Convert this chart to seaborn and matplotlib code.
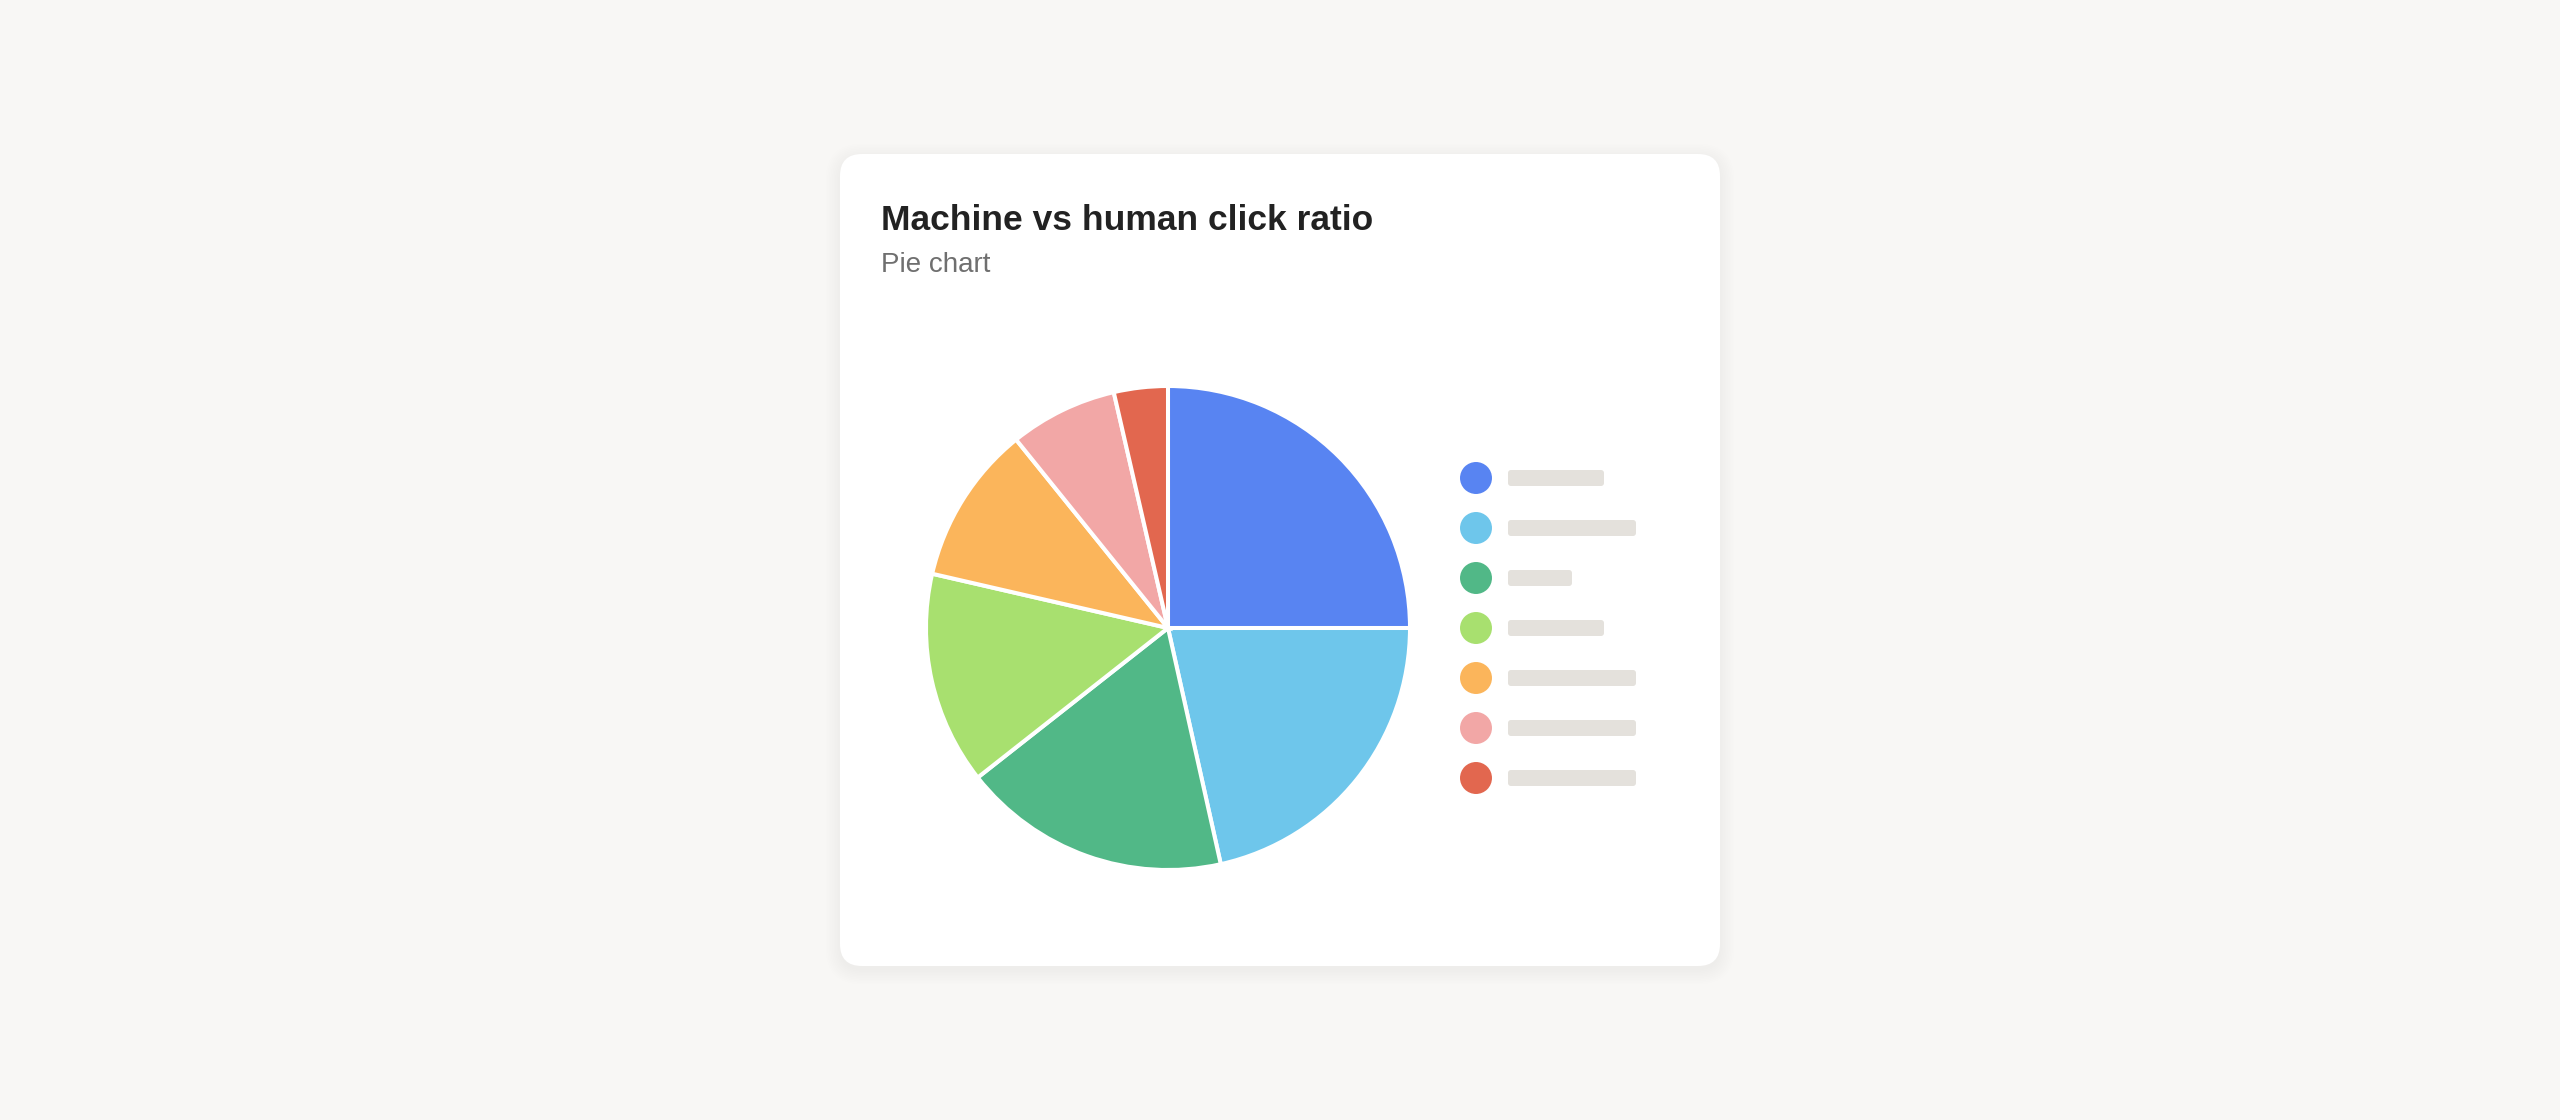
import numpy as np
import pandas as pd
import matplotlib.pyplot as plt
import seaborn as sns
from matplotlib.patches import FancyBboxPatch

# Datos del gráfico
segment_names = ["Segment 1", "Segment 2", "Segment 3", "Segment 4",
                 "Segment 5", "Segment 6", "Segment 7"]
segment_shares = [25.0, 21.5, 17.9, 14.2, 10.6, 7.2, 3.6]
segment_colors = ["#5884F2", "#6EC6EB", "#51B887", "#A8E06F",
                  "#FBB55B", "#F2A7A6", "#E2674F"]
# longitud de las etiquetas grises (placeholder) de la leyenda
label_widths = [96, 128, 64, 96, 128, 128, 128]

title_text = "Machine vs human click ratio"
subtitle_text = "Pie chart"

W, H = 2560, 1120
DPI = 100
BG = "#F8F7F5"


def px_box(left, top, width, height):
    """Convierte una caja en píxeles (origen arriba-izquierda) a coordenadas de figura"""
    return [left / W, 1 - (top + height) / H, width / W, height / H]


def draw_card(ax):
    """Tarjeta blanca con sombra suave"""
    x, y, w, h, r = 840, 154, 880, 812, 22
    for i in range(10):
        g = i * 1.6
        ax.add_patch(FancyBboxPatch(
            (x - g, y - g + 4), w + 2 * g, h + 2 * g,
            boxstyle=f"round,pad=0,rounding_size={r + g}",
            fc="black", ec="none", alpha=0.004))
    ax.add_patch(FancyBboxPatch(
        (x, y), w, h, boxstyle=f"round,pad=0,rounding_size={r}",
        fc="white", ec="none"))


def round_bars(ax, row_px=50):
    """Reemplaza las barras rectangulares por barras con esquinas redondeadas"""
    for bar in list(ax.patches):
        x0, y0 = bar.get_x(), bar.get_y()
        bw, bh = bar.get_width(), bar.get_height()
        color = bar.get_facecolor()
        bar.remove()
        ax.add_patch(FancyBboxPatch(
            (x0, y0), bw, bh, boxstyle="round,pad=0,rounding_size=3",
            mutation_aspect=1 / row_px, fc=color, ec="none"))


def main():
    sns.set_theme(style="white")
    plt.rcParams['font.family'] = ['Liberation Sans', 'DejaVu Sans']

    fig = plt.figure(figsize=(W / DPI, H / DPI), dpi=DPI, facecolor=BG)

    # Fondo en coordenadas de píxel
    bg_ax = fig.add_axes([0, 0, 1, 1])
    bg_ax.set_xlim(0, W)
    bg_ax.set_ylim(H, 0)
    bg_ax.set_axis_off()
    draw_card(bg_ax)

    bg_ax.text(881, 230, title_text, fontsize=25.5, fontweight="bold",
               color="#222222", va="baseline", ha="left")
    bg_ax.text(881, 272, subtitle_text, fontsize=20, color="#6F6F6F",
               va="baseline", ha="left")

    # Pie
    cx, cy, r = 1168, 628, 242
    half = 252
    pie_ax = fig.add_axes(px_box(cx - half, cy - half, 2 * half, 2 * half))
    pie_ax.pie(segment_shares, colors=segment_colors, startangle=90,
               counterclock=False,
               wedgeprops=dict(edgecolor="white", linewidth=2.9))
    lim = half / r
    pie_ax.set_xlim(-lim, lim)
    pie_ax.set_ylim(-lim, lim)
    pie_ax.set_aspect("equal")
    pie_ax.set_axis_off()

    # Leyenda: puntos de color + etiquetas grises
    leg_ax = fig.add_axes(px_box(1448, 453, 260, 350))
    df = pd.DataFrame({"name": segment_names, "width": label_widths})
    sns.barplot(data=df, x="width", y="name", orient="h", color="#E4E1DC",
                width=0.32, saturation=1, ax=leg_ax)
    round_bars(leg_ax)
    sns.scatterplot(x=[-32] * len(segment_names), y=np.arange(len(segment_names)),
                    hue=segment_names, palette=segment_colors, s=530,
                    linewidth=0, legend=False, ax=leg_ax)
    leg_ax.set_xlim(-60, 200)
    leg_ax.set_ylim(len(segment_names) - 0.5, -0.5)
    leg_ax.set_axis_off()

    fig.savefig("out.png", dpi=DPI, facecolor=BG)
    plt.close(fig)


if __name__ == "__main__":
    main()
